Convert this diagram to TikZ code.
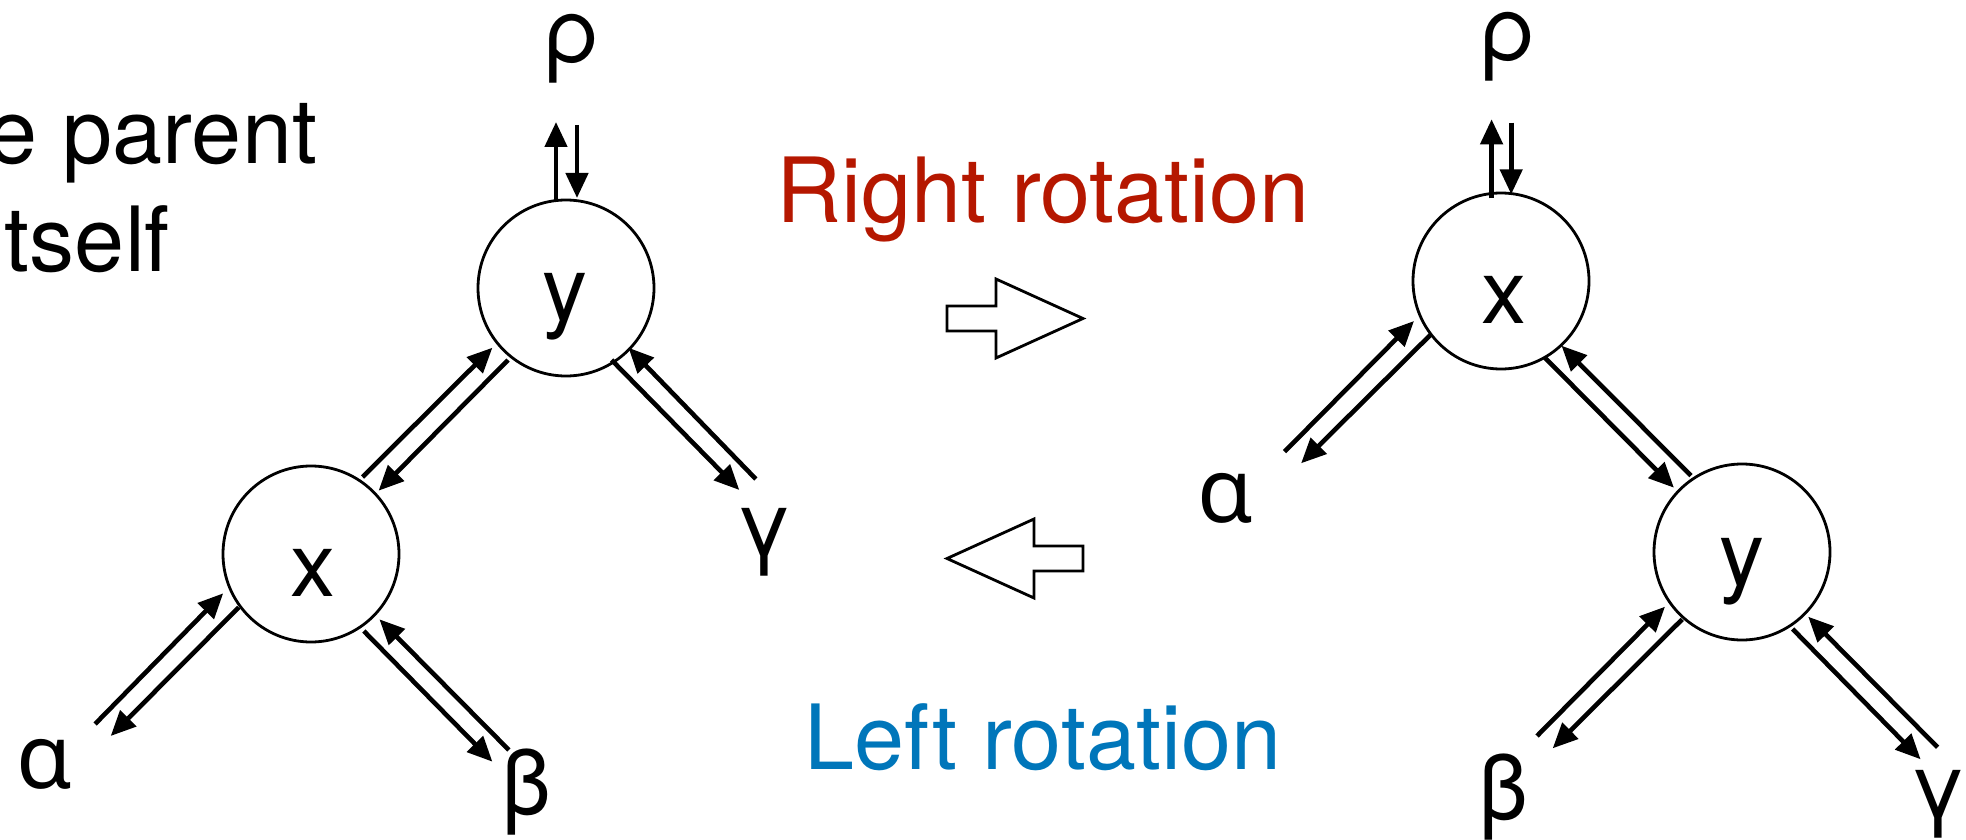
\documentclass[tikz,border=0pt]{standalone}
\usepackage{fontspec}
\setmainfont{TeX Gyre Heros}
\newfontfamily\alphafont{Noto Sans}
\usetikzlibrary{arrows.meta,calc}
\definecolor{kred}{HTML}{B51700}
\definecolor{kblue}{HTML}{0076BA}
\tikzset{
  circ/.style={circle, draw, line width=1.4pt, minimum size=88pt, inner sep=0pt, outer sep=0pt},
  lbl/.style={anchor=base, inner sep=0pt, outer sep=0pt, font=\fontsize{45}{54}\selectfont},
  arr/.style={line width=2.3pt, -{Triangle[length=12.5pt,width=11pt]}},
  hollow/.style={draw, line width=1.4pt, fill=white, line join=miter},
}
\newcommand\myarrow[4]{\draw[arr] ($(#1)+(#2)$) -- ($(#3)+(#4)$);}
\begin{document}
\begin{tikzpicture}[x=0.5pt,y=-0.5pt]
\useasboundingbox (0,0) rectangle (1966,840);
\clip (0,0) rectangle (1966,840);

% left-side partial text
\node[lbl, anchor=base east] (t1) at (317,163) {e parent};
\node[lbl, anchor=base east] (t2) at (170,271) {tself};

% left tree
\node[circ] (ly) at (566,288) {};
\node[circ] (lx) at (311,554) {};
\node[lbl] (lyt) at (565,320) {y};
\node[lbl] (lxt) at (313,596) {x};
\node[lbl] (rhoL) at (572,63) {ρ};
\node[lbl] (gL) at (764,555) {γ};
\node[lbl] (aL) at (45,788) {\alphafont α};
\node[lbl] (bL) at (526,814) {β};

\myarrow{ly}{-10,-88}{rhoL.base}{-16,59}
\myarrow{rhoL.base}{5,62}{ly}{11,-90}
\myarrow{lx}{51.5,-77}{ly}{-73.6,59.7}
\myarrow{ly}{-58,72}{lx}{67.6,-63.3}
\myarrow{ly}{45.6,72}{gL.base}{-24.7,-65}
\myarrow{gL.base}{-8.2,-76}{ly}{62.5,59.7}
\myarrow{aL.base}{50.1,-64}{lx}{-87.8,39.3}
\myarrow{lx}{-72.2,53.3}{aL.base}{65.7,-52}
\myarrow{lx}{52.8,77}{bL.base}{-33.6,-52.3}
\myarrow{bL.base}{-17.1,-64}{lx}{68.4,65.3}

% right tree
\node[circ] (rx) at (1501,281) {};
\node[circ] (ry) at (1742,552) {};
\node[lbl] (rxt) at (1504,323) {x};
\node[lbl] (ryt) at (1742,585) {y};
\node[lbl] (rhoR) at (1508,61) {ρ};
\node[lbl] (aR) at (1226,522) {\alphafont α};
\node[lbl] (bR) at (1503,819) {β};
\node[lbl] (gR) at (1938,817) {γ};

\myarrow{rx}{-9.4,-82.7}{rhoR.base}{-16.4,58.3}
\myarrow{rhoR.base}{3.2,61.7}{rx}{10.2,-86.7}
\myarrow{aR.base}{58.5,-70.3}{rx}{-87,40}
\myarrow{rx}{-70,53.3}{aR.base}{75.1,-58.7}
\myarrow{rx}{43.9,76.7}{ry}{-68.1,-64.3}
\myarrow{ry}{-51,-76.3}{rx}{60.5,64.7}
\myarrow{bR.base}{34,-83}{ry}{-77,54.7}
\myarrow{ry}{-59.8,67.3}{bR.base}{49.7,-70.7}
\myarrow{ry}{50.6,77}{gR.base}{-17.4,-57.7}
\myarrow{gR.base}{-0.4,-69.7}{ry}{66.2,64.7}

% rotation labels and hollow arrows
\node[lbl, text=kred] (rr) at (1043,222) {Right rotation};
\node[lbl, text=kblue] (lr) at (1043,769) {Left rotation};
\draw[hollow] (947,306) -- (996,306) -- (996,279) -- (1083,318.5) -- (996,358) -- (996,331) -- (947,331) -- cycle;
\draw[hollow] (1083,546) -- (1034,546) -- (1034,519) -- (947,558.5) -- (1034,598) -- (1034,571) -- (1083,571) -- cycle;
\end{tikzpicture}
\end{document}
